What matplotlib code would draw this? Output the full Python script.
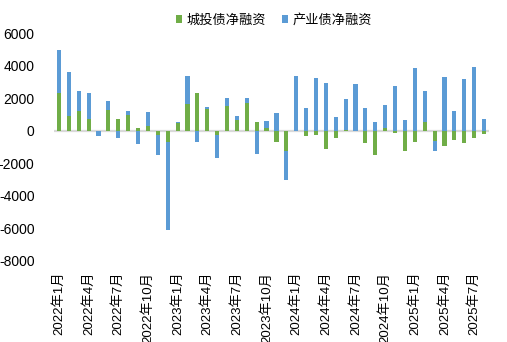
import numpy as np
import matplotlib.pyplot as plt

plt.rcParams['font.family'] = ['Liberation Sans', 'Noto Sans CJK SC', 'DejaVu Sans']
plt.rcParams['axes.unicode_minus'] = False

# 月份 2022年1月 - 2025年8月
months = [f"{y}年{m}月" for y in range(2022, 2026) for m in range(1, 13)][:44]

# 城投债净融资
chengtou = [2300, 920, 1210, 720, 0, 1290, 720, 960, 160, 300, -280, -680,
            450, 1660, 2320, 1310, -270, 1540, 680, 1680, 530, 180, -680, -1250,
            0, -310, -250, -1110, -430, 60, 0, -740, -1480, 160, -120, -1230,
            -680, 530, -640, -920, -550, -740, -430, -180]
# 产业债净融资
chanye = [2650, 2690, 1230, 1600, -340, 540, -450, 250, -820, 850, -1200, -5450,
          80, 1700, -680, 150, -1390, 470, 220, 330, -1440, 410, 1090, -1770,
          3360, 1390, 3240, 2930, 840, 1890, 2870, 1390, 530, 1420, 2750, 660,
          3860, 1910, -590, 3300, 1210, 3180, 3920, 720]

yticks = [-8000, -6000, -4000, -2000, 0, 2000, 4000, 6000]

green = '#70ad47'
blue = '#5b9bd5'

x = np.arange(len(months))
ct = np.array(chengtou)
cy = np.array(chanye)
# 正负分开堆叠
blue_bottom = np.where(cy >= 0, np.maximum(ct, 0), np.minimum(ct, 0))

fig = plt.figure(figsize=(5.07, 3.42), dpi=100)
ax = fig.add_axes([0.1065, 0.2377, 0.858, 0.6649])

ax.bar(x, ct, width=0.42, color=green, label='城投债净融资', zorder=2)
ax.bar(x, cy, width=0.42, bottom=blue_bottom, color=blue, label='产业债净融资', zorder=2)
ax.axhline(0, color='#d9d9d9', lw=1.6, zorder=1)

ax.set_xlim(-0.5, len(months) - 0.5)
ax.set_ylim(-8000, 6000)
ax.set_yticks(yticks)
ax.set_yticklabels([str(t) for t in yticks], fontsize=10)
ax.set_xticks(x[::3])
ax.set_xticklabels(months[::3], rotation=90, fontsize=9.5)
ax.tick_params(axis='both', length=0)
ax.tick_params(axis='y', pad=14)
ax.tick_params(axis='x', pad=8)
for s in ax.spines.values():
    s.set_visible(False)

fig.legend(loc='center', bbox_to_anchor=(0.54, 0.94), ncol=2, frameon=False,
           fontsize=9.5, handlelength=0.5, handleheight=0.5, handletextpad=0.3,
           columnspacing=1.2, borderaxespad=0)

fig.savefig('out.png', dpi=100)
